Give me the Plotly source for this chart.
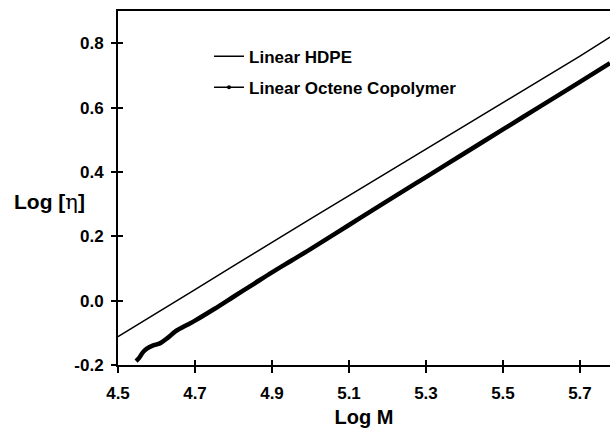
import plotly.graph_objects as go

# Data
hdpe_x = [4.50, 4.60, 4.70, 4.80, 4.90, 5.00, 5.10, 5.20, 5.30, 5.40, 5.50, 5.60, 5.70, 5.778]
hdpe_y = [-0.112, -0.040, 0.034, 0.108, 0.182, 0.254, 0.326, 0.398, 0.470, 0.543, 0.616, 0.688, 0.760, 0.819]

oct_x = [4.547, 4.555, 4.565, 4.574, 4.590, 4.610, 4.630, 4.650, 4.680, 4.700, 4.750, 4.800,
         4.850, 4.900, 4.950, 5.000, 5.100, 5.200, 5.300, 5.400, 5.500, 5.600, 5.700, 5.778]
oct_y = [-0.188, -0.178, -0.160, -0.150, -0.140, -0.132, -0.115, -0.095, -0.075, -0.062, -0.026, 0.012,
         0.050, 0.088, 0.124, 0.160, 0.235, 0.310, 0.384, 0.458, 0.532, 0.606, 0.680, 0.738]

x_ticks = [4.5, 4.7, 4.9, 5.1, 5.3, 5.5, 5.7]
x_tick_labels = ["4.5", "4.7", "4.9", "5.1", "5.3", "5.5", "5.7"]
y_ticks = [-0.2, 0.0, 0.2, 0.4, 0.6, 0.8]
y_tick_labels = ["-0.2", "0.0", "0.2", "0.4", "0.6", "0.8"]

x_range = [4.5, 5.778]
y_range = [-0.2, 0.9]

FONT = "Liberation Sans, Arial, sans-serif"

fig = go.Figure()

# HDPE
fig.add_trace(go.Scatter(x=hdpe_x, y=hdpe_y, mode="lines", name="Linear HDPE",
                         line=dict(color="black", width=1.5), legendgroup="a"))
# Octene copolymer thick curve
fig.add_trace(go.Scatter(x=oct_x, y=oct_y, mode="lines", showlegend=False,
                         line=dict(color="black", width=4.5, shape="spline"), legendgroup="b"))
# legend entry for octene copolymer (thin line with dot)
fig.add_trace(go.Scatter(x=[None], y=[None], mode="lines+markers", name="Linear Octene Copolymer",
                         line=dict(color="black", width=1.5), marker=dict(color="black", size=4),
                         legendgroup="b"))
# invisible trace for the overlay tick axes
fig.add_trace(go.Scatter(x=[None], y=[None], xaxis="x2", yaxis="y2", showlegend=False,
                         hoverinfo="skip"))

tickfont = dict(family=FONT, size=17, color="black", weight="bold")

fig.update_layout(
    width=610, height=433,
    margin=dict(l=118, r=0, t=11, b=68),
    paper_bgcolor="white", plot_bgcolor="white",
    showlegend=True,
    legend=dict(x=0.185, y=0.922, xanchor="left", yanchor="top",
                bgcolor="rgba(0,0,0,0)", font=dict(family=FONT, size=17, color="black", weight="bold"),
                traceorder="grouped", tracegroupgap=6),
    xaxis=dict(range=x_range, tickvals=x_ticks, ticktext=x_tick_labels,
               ticks="outside", ticklen=6, tickwidth=2, tickcolor="black",
               showline=True, linecolor="black", linewidth=2, mirror=True,
               showgrid=False, zeroline=False, tickfont=tickfont, ticklabelstandoff=6,
               title=dict(text="Log M", font=dict(family=FONT, size=20, color="black", weight="bold"),
                          standoff=8)),
    yaxis=dict(range=y_range, tickvals=y_ticks, ticktext=y_tick_labels,
               ticks="outside", ticklen=5, tickwidth=2, tickcolor="black",
               showline=True, linecolor="black", linewidth=2, mirror=False,
               showgrid=False, zeroline=False, tickfont=tickfont, ticklabelstandoff=4),
    xaxis2=dict(range=x_range, tickvals=x_ticks, overlaying="x", anchor="y2", side="bottom",
                ticks="inside", ticklen=5, tickwidth=2, tickcolor="black",
                showticklabels=False, showline=False, showgrid=False, zeroline=False),
    yaxis2=dict(range=y_range, tickvals=y_ticks, overlaying="y", anchor="x2", side="left",
                ticks="inside", ticklen=5, tickwidth=2, tickcolor="black",
                showticklabels=False, showline=False, showgrid=False, zeroline=False),
    annotations=[dict(text="Log [<span style='font-family:DejaVu Serif;font-weight:normal'>η</span>]",
                      xref="paper", yref="paper", x=-0.215, y=0.46, xanchor="left", yanchor="middle",
                      showarrow=False,
                      font=dict(family=FONT, size=21, color="black", weight="bold"))],
)

fig.write_html("out.html")
